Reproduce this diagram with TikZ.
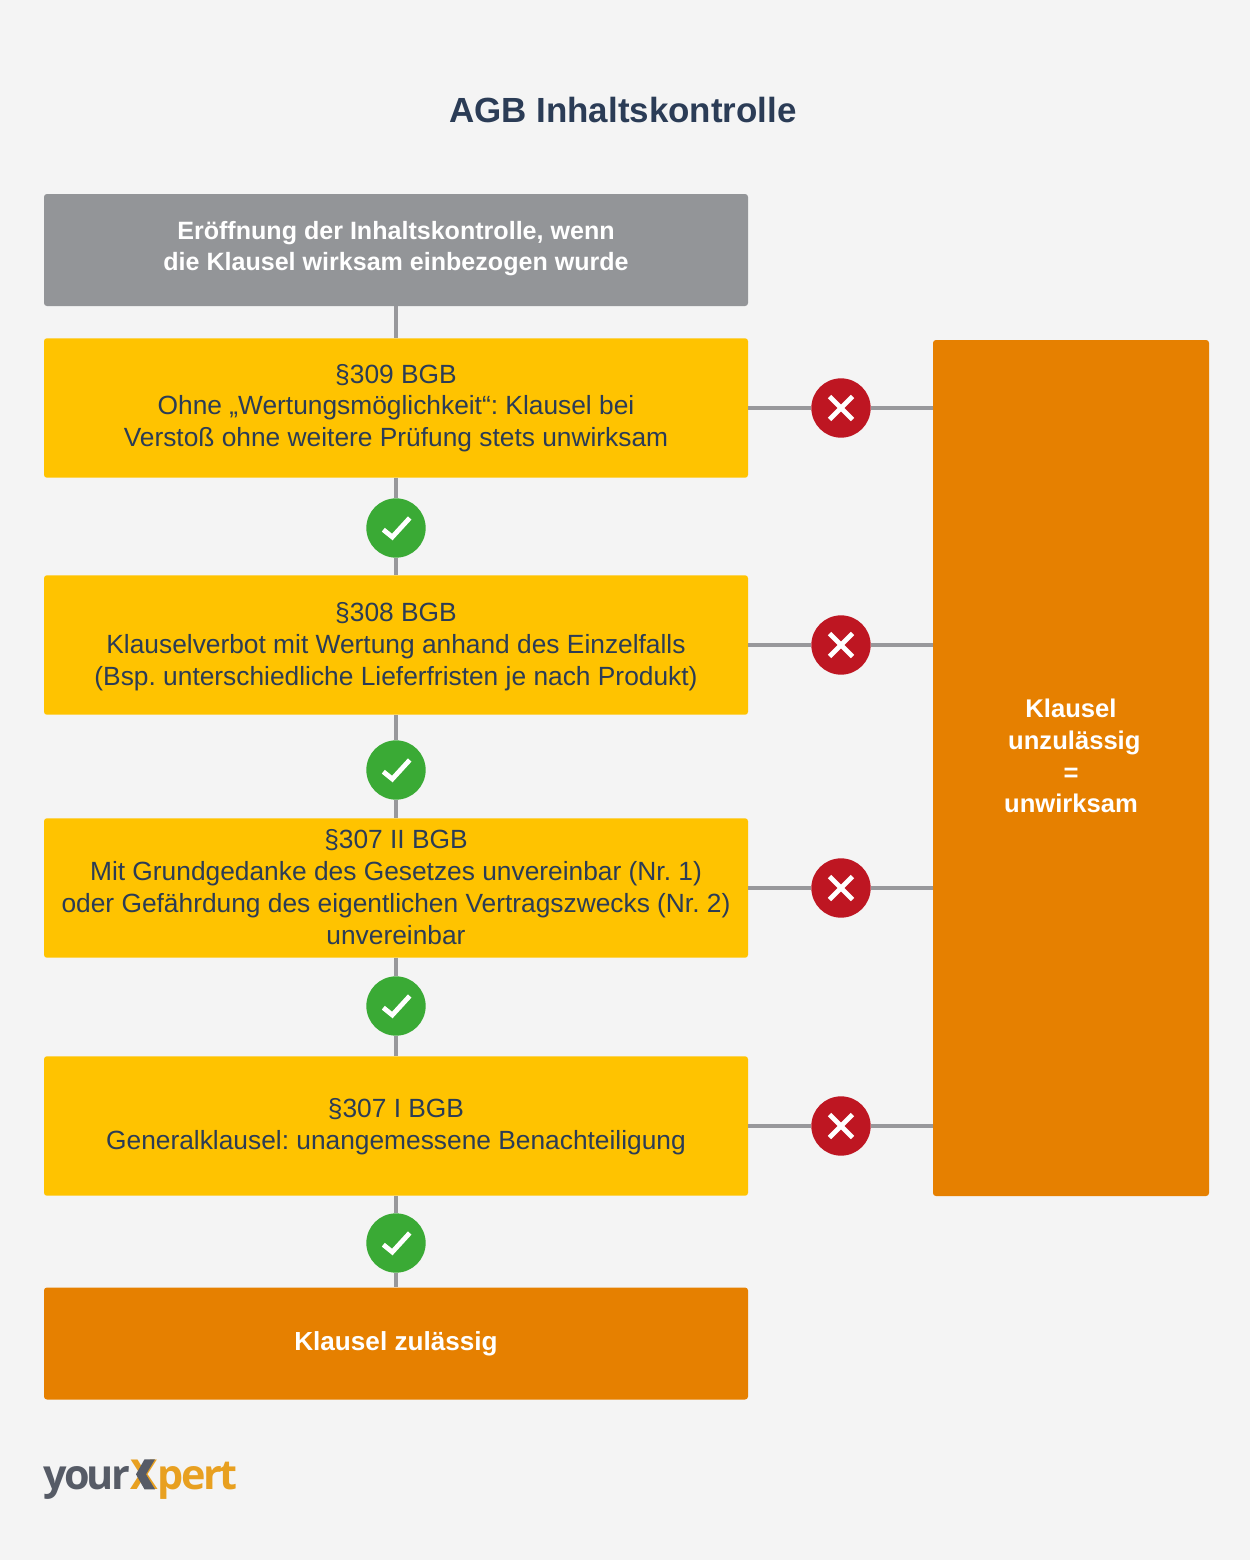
\documentclass[tikz,border=0pt]{standalone}
\usepackage{fontspec}
\setmainfont{Liberation Sans}
\newfontfamily\logofont{Open Sans}[LetterSpace=-6.5]
\usepackage{xcolor}
\usetikzlibrary{arrows.meta,positioning,calc}
\definecolor{paper}{HTML}{F4F4F4}
\definecolor{ink}{HTML}{2B3C56}
\definecolor{greybox}{HTML}{939598}
\definecolor{linegray}{HTML}{98989B}
\definecolor{yellowbox}{HTML}{FFC300}
\definecolor{orangebox}{HTML}{E68000}
\definecolor{okgreen}{HTML}{3AAA35}
\definecolor{nored}{HTML}{BE1622}
\definecolor{logogray}{HTML}{565B66}
\definecolor{logoorange}{HTML}{E8A020}
\tikzset{
  flowbox/.style={rounded corners=2.2pt,minimum width=528pt,minimum height=84pt,
                  inner sep=0pt,align=center,text=white,
                  font=\fontsize{19.6}{23.8}\selectfont\bfseries\frenchspacing},
  rulebox/.style={flowbox,fill=yellowbox,minimum height=104.6pt,text=ink,
                  font=\fontsize{19.75}{23.8}\selectfont\frenchspacing},
  okbadge/.style={circle,fill=okgreen,inner sep=0pt,minimum size=44.5pt},
  nobadge/.style={circle,fill=nored,inner sep=0pt,minimum size=44.5pt},
  joinline/.style={draw=linegray,line width=3pt},
  markline/.style={draw=white,line width=3.6pt}
}
\begin{document}
\begin{tikzpicture}[x=0.75pt,y=-0.75pt]
  \useasboundingbox[fill=paper] (0,0) rectangle (1250,1560);
  \node[font=\fontsize{26.2}{31}\selectfont\bfseries,text=ink,inner sep=0pt] (title) at (623,110) {AGB Inhaltskontrolle};

  \node[flowbox,fill=greybox,font=\fontsize{18.8}{23.8}\selectfont\bfseries,text depth=6pt] (start) at (396,250) {Eröffnung der Inhaltskontrolle, wenn\\die Klausel wirksam einbezogen wurde};
  \node[rulebox] (rule1) at (396,408) {§309 BGB\\Ohne „Wertungsmöglichkeit“: Klausel bei\\Verstoß ohne weitere Prüfung stets unwirksam};
  \node[rulebox,text depth=1.5pt] (rule2) at (396,645) {§308 BGB\\Klauselverbot mit Wertung anhand des Einzelfalls\\(Bsp. unterschiedliche Lieferfristen je nach Produkt)};
  \node[rulebox,text depth=1.5pt] (rule3) at (396,888) {§307 II BGB\\Mit Grundgedanke des Gesetzes unvereinbar (Nr. 1)\\oder Gefährdung des eigentlichen Vertragszwecks (Nr. 2)\\unvereinbar};
  \node[rulebox,text depth=3pt] (rule4) at (396,1126) {§307 I BGB\\Generalklausel: unangemessene Benachteiligung};
  \node[flowbox,fill=orangebox] (allowed) at (396,1343.5) {Klausel zulässig};

  \node[flowbox,fill=orangebox,minimum width=207pt,minimum height=642pt] (denied) at (1071,768) {};
  \node[align=center,text=white,inner sep=0pt,font=\fontsize{19.2}{23.8}\selectfont\bfseries] (deniedtext) at (1071,756) {Klausel\\\hspace*{5pt}unzulässig\\=\\unwirksam};

  % badges
  \foreach \i/\y in {1/528,2/770,3/1006,4/1243} {
    \node[okbadge] (ok\i) at (396,\y) {};
    \draw[markline] ($(ok\i)+(-12.7,1.7)$) -- ++(9,7.3) -- ++(17.4,-19);
  }
  \foreach \i/\y in {1/408,2/645,3/888,4/1126} {
    \node[nobadge] (no\i) at (841,\y) {};
    \draw[markline] ($(no\i)+(-11.5,-11.5)$) -- ++(23,23);
    \draw[markline] ($(no\i)+(-11.5,11.5)$) -- ++(23,-23);
    \draw[joinline] (rule\i) -- (no\i);
    \draw[joinline] (no\i) -- (no\i -| denied.west);
  }

  % connectors
  \draw[joinline] (start) -- (rule1);
  \foreach \i/\j in {1/2,2/3,3/4} {
    \draw[joinline] (rule\i) -- (ok\i);
    \draw[joinline] (ok\i) -- (rule\j);
  }
  \draw[joinline] (rule4) -- (ok4);
  \draw[joinline] (ok4) -- (allowed);

  % logo
  \node[anchor=base west,inner sep=0pt,font=\logofont\fontsize{31}{36}\selectfont\bfseries,text=logogray] (logo) at (43,1489)
    {your\textcolor{logoorange}{X}\textcolor{logoorange}{pert}};
  \fill[logogray] (144.5,1459.3) -- (155,1459.3) -- (146,1474.3) -- (155,1489.3) -- (144.5,1489.3) -- (136,1474.3) -- cycle;
\end{tikzpicture}
\end{document}
